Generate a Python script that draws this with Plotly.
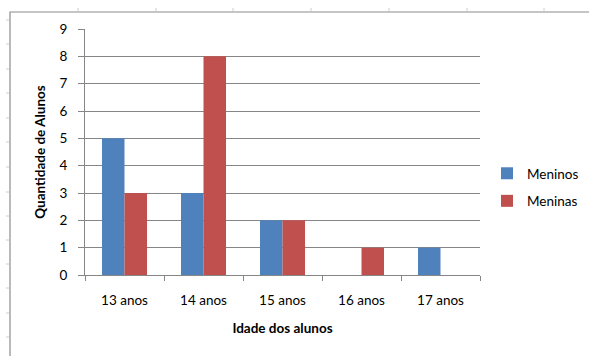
import plotly.graph_objects as go

categorias = ["13 anos", "14 anos", "15 anos", "16 anos", "17 anos"]
meninos = [5, 3, 2, 0, 1]
meninas = [3, 8, 2, 1, 0]
y_ticks = [0, 1, 2, 3, 4, 5, 6, 7, 8, 9]

W, H = 589, 356
L, R, T, B = 85, 480, 29, 275  # plot area in pixels

def px(x):
    return (x - L) / (R - L)

def py(y):
    return (B - y) / (B - T)

fig = go.Figure()
fig.add_trace(go.Bar(name="Meninos", x=categorias, y=meninos, marker_color="#4F81BD",
                     marker_line_width=0, legendgroup="a"))
fig.add_trace(go.Bar(name="Meninas", x=categorias, y=meninas, marker_color="#C0504D",
                     marker_line_width=0, legendgroup="b"))

font = "Lato, 'Open Sans', sans-serif"
shapes = []
# chart area border
shapes.append(dict(type="rect", xref="paper", yref="paper",
                   x0=px(10), x1=px(650), y0=py(12), y1=py(420),
                   line=dict(color="#8c8c8c", width=1.2), layer="below"))
# faint spreadsheet marks on the left and top
for yy in [20, 44, 69, 93, 118, 142, 167, 192, 216, 240, 264, 288, 313, 337]:
    shapes.append(dict(type="line", xref="paper", yref="paper",
                       x0=px(6), x1=px(9), y0=py(yy), y1=py(yy),
                       line=dict(color="#c8d0dc", width=1)))
for xx in [78, 156, 233, 311, 389, 467, 544]:
    shapes.append(dict(type="line", xref="paper", yref="paper",
                       x0=px(xx), x1=px(xx), y0=py(8), y1=py(11),
                       line=dict(color="#c8d0dc", width=1)))

fig.update_layout(
    width=W, height=H,
    margin=dict(l=L, r=W - R, t=T, b=H - B, pad=0, autoexpand=False),
    paper_bgcolor="white", plot_bgcolor="white",
    barmode="group", bargap=0.43, bargroupgap=0,
    font=dict(family=font, size=13.5, color="#000000"),
    showlegend=True,
    legend=dict(xref="container", yref="container",
                x=487 / W, y=1 - 158 / H, xanchor="left", yanchor="top",
                font=dict(size=13.5), tracegroupgap=7, itemwidth=30,
                bgcolor="rgba(0,0,0,0)"),
    shapes=shapes,
    xaxis=dict(
        showline=True, linecolor="#868686", linewidth=1,
        ticks="outside", ticklen=5, tickcolor="#868686", tickson="boundaries",
        showgrid=False, ticklabelstandoff=13,
        title=dict(text="<b>Idade dos alunos</b>", font=dict(size=13.5), standoff=16),
        tickfont=dict(size=13.5),
    ),
    yaxis=dict(
        range=[0, 9], tickvals=y_ticks,
        showline=True, linecolor="#868686", linewidth=1,
        ticks="outside", ticklen=6, tickcolor="#868686",
        showgrid=True, gridcolor="#868686", gridwidth=1,
        zeroline=False, ticklabelstandoff=8,
        title=dict(text="<b>Quantidade de Alunos</b>", font=dict(size=13.5), standoff=10),
        tickfont=dict(size=13.5),
    ),
)

fig.write_html("out.html")
